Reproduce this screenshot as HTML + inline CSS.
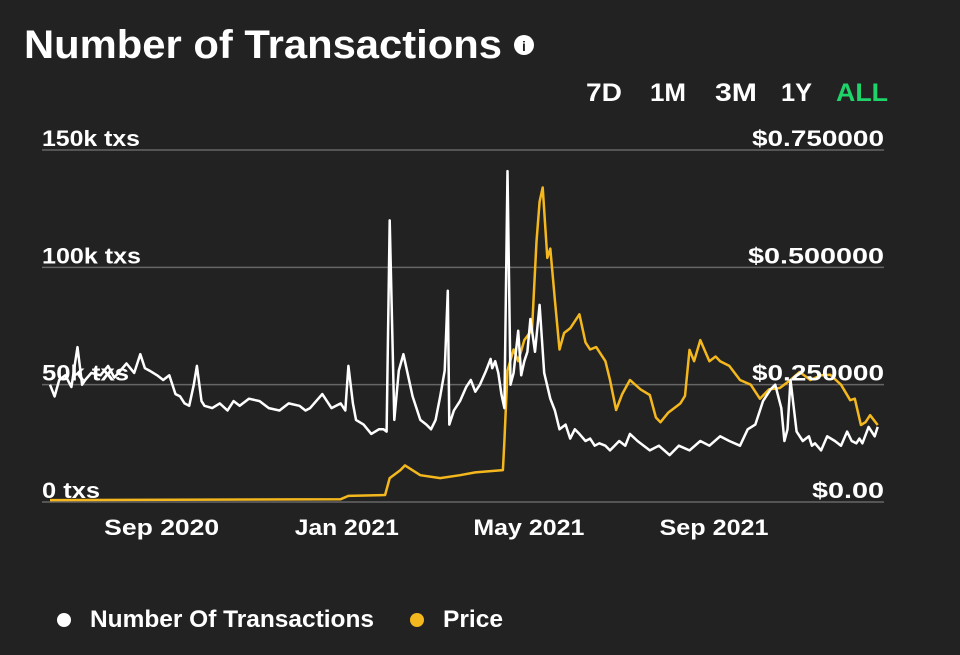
<!DOCTYPE html>
<html><head><meta charset="utf-8"><style>
body{margin:0;background:#222222;width:960px;height:655px;overflow:hidden;font-family:"Liberation Sans",sans-serif;color:#fff}
svg{position:absolute;left:0;top:0}
</style></head><body>
<svg width="960" height="655">
<text x="24" y="58" font-size="40" font-weight="bold" fill="#fff" textLength="478" lengthAdjust="spacingAndGlyphs">Number of Transactions</text>
<g><circle cx="524" cy="45" r="10" fill="#fff"/><text x="524" y="51" font-size="14" font-weight="bold" fill="#222" text-anchor="middle">i</text></g>
<g font-size="25" font-weight="bold">
<text x="586" y="101" fill="#fff" textLength="36" lengthAdjust="spacingAndGlyphs">7D</text>
<text x="650" y="101" fill="#fff" textLength="36" lengthAdjust="spacingAndGlyphs">1M</text>
<text x="715" y="101" fill="#fff" textLength="42" lengthAdjust="spacingAndGlyphs">3M</text>
<text x="781" y="101" fill="#fff" textLength="31" lengthAdjust="spacingAndGlyphs">1Y</text>
<text x="836" y="101" fill="#1fd36b" textLength="52" lengthAdjust="spacingAndGlyphs">ALL</text>
</g>
<g id="grid"></g><g id="lines"></g><g id="labels"></g>
<g font-size="24" font-weight="bold">
<circle cx="64" cy="620" r="7" fill="#fff"/>
<text x="90" y="627" fill="#fff" textLength="284" lengthAdjust="spacingAndGlyphs">Number Of Transactions</text>
<circle cx="417" cy="620" r="7" fill="#f4b81e"/>
<text x="443" y="627" fill="#fff" textLength="60" lengthAdjust="spacingAndGlyphs">Price</text>
</g>
</svg>
<script>
const txDays=[0,3,6,10,14,18,21,23,27,33,38,42,46,50,55,59,62,65,70,74,78,82,85,88,91,94,96,99,101,106,111,116,120,124,130,137,143,150,156,163,167,170,174,178,184,190,193,195,198,200,205,210,215,218,220,222,225,228,231,237,242,246,249,252,255,258,260,261,264,268,272,275,278,281,285,288,289,291,293,295,297,299,301,303,306,308,310,312,314,317,320,323,327,330,333,337,340,343,346,350,353,356,359,363,366,369,372,376,379,384,392,398,405,411,418,425,431,438,444,451,456,461,466,471,474,478,480,482,484,488,492,496,498,500,504,508,513,517,521,524,527,529,531,535,539,541];
const txVals=[50,45,52,54,49,66,50,52,55,54,58,53,56,59,55,63,57,56,54,52,54,46,45,42,41,50,58,43,41,40,42,39,43,41,44,43,40,39,42,41,39,40,43,46,40,42,39,58,42,35,33,29,31,31,30,120,35,56,63,45,35,33,31,35,45,56,90,33,39,43,49,52,47,50,56,61,57,60,55,46,40,141,50,55,73,54,60,64,78,64,84,55,44,39,31,33,27,31,29,26,27,24,25,24,22,24,26,24,29,26,22,24,20,24,22,26,24,28,26,24,31,33,43,48,50,40,26,31,52,30,26,28,24,25,22,28,26,24,30,26,25,27,25,32,28,32];
const prDays=[0,190,195,219,222,229,232,242,255,268,278,296,297,299,303,306,310,315,318,320,322,325,327,330,333,336,340,346,350,353,357,363,366,370,374,379,386,392,396,399,404,408,412,415,418,421,425,431,435,438,444,451,458,464,470,477,484,490,497,504,510,517,523,526,530,533,536,541];
const prVals=[0.004,0.006,0.013,0.015,0.051,0.068,0.078,0.057,0.051,0.057,0.063,0.068,0.13,0.28,0.325,0.30,0.345,0.367,0.555,0.64,0.67,0.52,0.54,0.43,0.325,0.36,0.37,0.40,0.34,0.325,0.33,0.30,0.26,0.196,0.23,0.26,0.24,0.228,0.18,0.17,0.19,0.20,0.21,0.226,0.324,0.30,0.345,0.30,0.31,0.30,0.29,0.26,0.25,0.22,0.24,0.243,0.26,0.277,0.26,0.27,0.271,0.25,0.217,0.22,0.164,0.17,0.185,0.164];
const txTicks=[0,50,100,150],txTickLabels=["0 txs","50k txs","100k txs","150k txs"],txTickW=[58,87,99,98];
const prTicks=[0,0.25,0.5,0.75],prTickLabels=["$0.00","$0.250000","$0.500000","$0.750000"],prTickW=[72,132,136,132];
const xTicks=[73,194,313,434],xTickLabels=["Sep 2020","Jan 2021","May 2021","Sep 2021"],xTickW=[115,104,111,109];
const X=d=>50+d*1.53, Y=v=>502-v*352/150, P=v=>502-v*352/0.75;
const NS="http://www.w3.org/2000/svg";
function mk(t,a,parent,txt){const e=document.createElementNS(NS,t);for(const k in a)e.setAttribute(k,a[k]);if(txt!==undefined)e.textContent=txt;document.getElementById(parent).appendChild(e);return e;}
txTicks.forEach((v,i)=>{
 const l=mk('line',{x1:42,x2:884,y1:Y(v),y2:Y(v),stroke:'#666','stroke-width':1.5},'grid');
 
 
 const t=mk('text',{x:42,y:Y(v)-4,'font-size':22,'font-weight':'bold',fill:'#fff',textLength:txTickW[i],lengthAdjust:'spacingAndGlyphs'},'labels',txTickLabels[i]);
 
 
});
prTicks.forEach((v,i)=>{
 const t=mk('text',{x:884-prTickW[i],y:P(v)-4,'font-size':22,'font-weight':'bold',fill:'#fff',textLength:prTickW[i],lengthAdjust:'spacingAndGlyphs'},'labels',prTickLabels[i]);
 
 
});
xTicks.forEach((d,i)=>{
 const t=mk('text',{x:X(d)-xTickW[i]/2,y:535,'font-size':22,'font-weight':'bold',fill:'#fff',textLength:xTickW[i],lengthAdjust:'spacingAndGlyphs'},'labels',xTickLabels[i]);
 
 
});
const pp=prDays.map((d,i)=>X(d).toFixed(1)+','+P(prVals[i]).toFixed(1)).join(' ');
const pl=mk('polyline',{points:pp,fill:'none',stroke:'#f4b81e','stroke-width':2.5,'stroke-linejoin':'round'},'lines');


const tp=txDays.map((d,i)=>X(d).toFixed(1)+','+Y(txVals[i]).toFixed(1)).join(' ');
const tl=mk('polyline',{points:tp,fill:'none',stroke:'#fff','stroke-width':2.5,'stroke-linejoin':'round'},'lines');


</script>
</body></html>
